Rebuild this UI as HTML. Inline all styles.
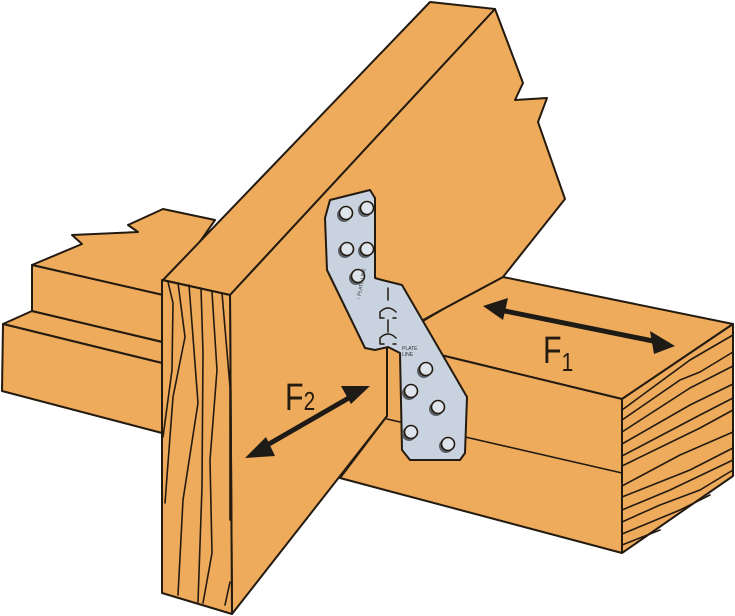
<!DOCTYPE html>
<html><head><meta charset="utf-8"><style>html,body{margin:0;padding:0;background:#fff}svg{display:block}</style></head>
<body>
<svg width="735" height="616" viewBox="0 0 735 616" xmlns="http://www.w3.org/2000/svg" stroke="#231a10" stroke-linejoin="round" stroke-linecap="round">
<g fill="#eeab5c" stroke-width="2">
<polygon points="3,324 32,311 162,342 162,363"/>
<polygon points="3,324 162,363 162,433 2,391"/>
<polygon points="32,265 82,244 72,235 138,232 128,225 163,209 215,220 163,295"/>
<polygon points="32,265 163,295 163,342 32,311"/>
<polygon points="503,277 733,324 622,399 387,342 445,308"/>
<polygon points="387,342 622,399 622,553 340,478 387,416"/>
<polygon points="622,399 733,324 733,476 622,553"/>
<polygon points="163,280 430,2 495,9 230,295"/>
<polygon points="230,295 495,9 523,83 515,100 547,98 538,122 565,199 503,277 445,308 387,340 387,416 232,614"/>
<polygon points="162,280 230,295 232,614 162,593"/>
</g>
<g fill="none" stroke-width="1.6">
<line x1="387" y1="419" x2="622" y2="473"/>
<line x1="387" y1="340" x2="387" y2="416"/>
<polyline points="168,282 173,303 172,370 163,437"/>
<polyline points="178,283 185,337 173,397 165,503"/>
<polyline points="189,285 193,337 198,403 183,500 178,595"/>
<polyline points="201,288 203,353 202,487 198,602"/>
<polyline points="212,292 217,370 210,460 212,553 203,603"/>
<polyline points="222,293 230,387 230,520"/>
<polyline points="230,582 225,605"/>
<polyline points="622,410 690,360 733,335"/>
<polyline points="622,420 680,380 700,372 733,352"/>
<polyline points="622,432 690,388 733,366"/>
<polyline points="622,444 690,405 733,384"/>
<polyline points="622,456 700,415 733,398"/>
<polyline points="622,466 700,428 733,410"/>
<polyline points="622,486 680,455 733,432"/>
<polyline points="622,497 690,470 733,448"/>
<polyline points="622,510 670,490 733,460"/>
<polyline points="622,522 660,505 700,490 733,470"/>
<polyline points="622,534 680,510 710,495"/>
<polyline points="622,545 660,530"/>
</g>
<g stroke-width="2">
<polygon fill="#c9d3df" points="330,200 370,190 375,198 375,278 382,280 402,285 467,397 465,453 460,460 410,460 402,450 400,353 388,347 375,350 365,348 327,270 325,218"/>
<g stroke-width="1.6">
<g fill="#5a5f66" stroke="none">
<circle cx="344" cy="215" r="7"/><circle cx="365" cy="210" r="7"/>
<circle cx="345" cy="251" r="7"/><circle cx="365" cy="251" r="7"/>
<circle cx="356" cy="278" r="7"/>
<circle cx="424" cy="371" r="7"/><circle cx="409" cy="393" r="7"/>
<circle cx="436" cy="409" r="7"/><circle cx="409" cy="434" r="7"/>
<circle cx="446" cy="446" r="7"/>
</g>
<g fill="#dde4ec">
<circle cx="346" cy="213" r="6.5"/><circle cx="367" cy="208" r="6.5"/>
<circle cx="347" cy="249" r="6.5"/><circle cx="367" cy="249" r="6.5"/>
<circle cx="358" cy="276" r="6.5"/>
<circle cx="426" cy="369" r="6.5"/><circle cx="411" cy="391" r="6.5"/>
<circle cx="438" cy="407" r="6.5"/><circle cx="411" cy="432" r="6.5"/>
<circle cx="448" cy="444" r="6.5"/>
</g>
</g>
<g fill="none" stroke-width="1.5">
<line x1="388" y1="288" x2="388" y2="300"/>
<path d="M380,312 q8,-8 16,0 M380,318 h4 M393,318 h3 M380,312 v6"/>
<line x1="388" y1="320" x2="388" y2="332"/>
<path d="M380,338 q8,-8 16,0 M380,344 h4 M393,344 h3 M380,338 v6"/>
</g>
</g>
<text x="402" y="350" font-family="Liberation Sans, sans-serif" font-size="5" fill="#333" stroke="none">PLATE</text>
<text x="402" y="356" font-family="Liberation Sans, sans-serif" font-size="5" fill="#333" stroke="none">LINE</text>
<text x="0" y="0" transform="translate(360,300) rotate(-80)" font-family="Liberation Sans, sans-serif" font-size="5" fill="#333" stroke="none">↑ PLATE LINE</text>
<g fill="#1e1a16" stroke="none">
<line x1="500" y1="310" x2="658" y2="342" stroke="#1e1a16" stroke-width="5"/>
<polygon points="483,306 508,298 503,320"/>
<polygon points="675,346 650,331 654,354"/>
<line x1="262" y1="448" x2="354" y2="395" stroke="#1e1a16" stroke-width="5"/>
<polygon points="245,458 266,437 275,456"/>
<polygon points="370,386 341,386 351,404"/>
</g>
<text transform="translate(285,410) scale(0.8,1)" font-family="Liberation Sans, sans-serif" font-size="38" fill="#231a10" stroke="none">F<tspan font-size="26" dy="0">2</tspan></text>
<text transform="translate(543,363) scale(0.8,1)" font-family="Liberation Sans, sans-serif" font-size="38" fill="#231a10" stroke="none">F<tspan font-size="26" dy="8">1</tspan></text>
</svg>
</body></html>
